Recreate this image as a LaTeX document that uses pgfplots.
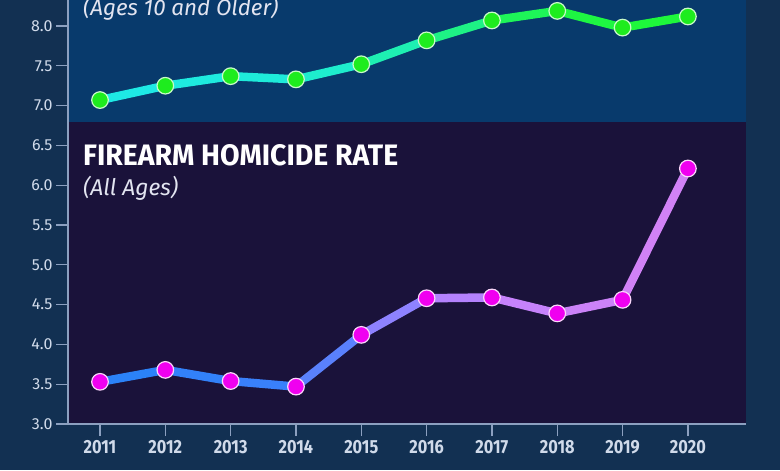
\documentclass[border=0pt]{standalone}
\usepackage{graphicx}
\usepackage{pgfplots}
\pgfplotsset{compat=1.18}
\usepackage{fontspec}
\setmainfont{Fira Sans}
\definecolor{bgout}{RGB}{18,48,82}
\definecolor{bgtop}{RGB}{8,58,108}
\definecolor{bgbot}{RGB}{26,18,58}
\definecolor{axcol}{RGB}{140,160,192}
\definecolor{tlab}{RGB}{208,218,234}
\definecolor{sublab}{RGB}{226,228,240}
\definecolor{gmark}{RGB}{30,236,30}
\definecolor{gedge}{RGB}{200,250,200}
\definecolor{pmark}{RGB}{240,0,240}
\definecolor{pedge}{RGB}{250,215,250}
\newcommand\sx[1]{\scalebox{0.86}[1]{#1}}
\pgfplotsset{
  colormap={gmap}{rgb255(0cm)=(30,232,232) rgb255(3cm)=(30,236,215) rgb255(4cm)=(30,238,195) rgb255(5cm)=(30,240,160) rgb255(6cm)=(30,244,105) rgb255(7cm)=(30,246,70) rgb255(9cm)=(30,248,55)},
  colormap={pmap}{rgb255(0cm)=(40,130,248) rgb255(3cm)=(60,128,250) rgb255(4cm)=(120,130,255) rgb255(5cm)=(165,130,255) rgb255(6cm)=(195,130,252) rgb255(9cm)=(212,130,245)},
}
\begin{document}
\begin{tikzpicture}
\begin{axis}[
  scale only axis,
  width=678pt, height=424pt,
  xmin=2010.51, xmax=2020.89,
  ymin=3, ymax=8.327,
  clip=false,
  axis on top,
  axis x line*=bottom, axis y line*=left,
  axis line style={axcol, line width=1.6pt, -},
  tick style={axcol, line width=1.3pt},
  major tick length=12pt,
  tick align=outside,
  xtick={2011,2012,2013,2014,2015,2016,2017,2018,2019,2020},
  xticklabels={\sx{2011},\sx{2012},\sx{2013},\sx{2014},\sx{2015},\sx{2016},\sx{2017},\sx{2018},\sx{2019},\sx{2020}},
  xticklabel style={font=\fontsize{19}{19}\selectfont\bfseries, text=tlab, yshift=-1pt},
  ytick={3,3.5,4,4.5,5,5.5,6,6.5,7,7.5,8},
  yticklabel style={font=\fontsize{16}{16}\selectfont, text=tlab, /pgf/number format/.cd, fixed, fixed zerofill, precision=1, assume math mode=true},
]
\fill[bgout] (axis cs:2009.469,2.422) rectangle (axis cs:2021.41,8.327);
\fill[bgbot] (axis cs:2010.51,3) rectangle (axis cs:2020.89,6.79);
\fill[bgtop] (axis cs:2010.51,6.79) rectangle (axis cs:2020.89,8.327);
\coordinate (bbsw) at (axis cs:2009.469,2.422);
\coordinate (bbne) at (axis cs:2021.41,8.327);

\node[anchor=base west, inner sep=0pt, text=white] at (axis cs:2010.74,6.254)
  {\resizebox{315pt}{21pt}{\bfseries FIREARM HOMICIDE RATE}};
\node[anchor=base west, inner sep=0pt, text=sublab] at (axis cs:2010.74,5.877)
  {\resizebox{95pt}{!}{\fontsize{21}{21}\selectfont\itshape (All Ages)}};
\node[anchor=base west, inner sep=0pt, text=sublab] at (axis cs:2010.74,8.138)
  {\resizebox{195pt}{!}{\fontsize{21}{21}\selectfont\itshape (Ages 10 and Older)}};

\addplot[mesh, point meta=x, colormap name=gmap, line width=8.5pt, line cap=round, line join=round]
  coordinates {(2011,7.07) (2012,7.25) (2013,7.37) (2014,7.33) (2015,7.52) (2016,7.82) (2017,8.07) (2018,8.19) (2019,7.98) (2020,8.12)};
\addplot[only marks, mark=*, mark size=8.3pt, mark options={fill=gmark, draw=gedge, line width=1.2pt}]
  coordinates {(2011,7.07) (2012,7.25) (2013,7.37) (2014,7.33) (2015,7.52) (2016,7.82) (2017,8.07) (2018,8.19) (2019,7.98) (2020,8.12)};

\addplot[mesh, point meta=x, colormap name=pmap, line width=8.5pt, line cap=round, line join=round]
  coordinates {(2011,3.53) (2012,3.68) (2013,3.54) (2014,3.47) (2015,4.12) (2016,4.58) (2017,4.59) (2018,4.39) (2019,4.56) (2020,6.21)};
\addplot[only marks, mark=*, mark size=8.3pt, mark options={fill=pmark, draw=pedge, line width=1.2pt}]
  coordinates {(2011,3.53) (2012,3.68) (2013,3.54) (2014,3.47) (2015,4.12) (2016,4.58) (2017,4.59) (2018,4.39) (2019,4.56) (2020,6.21)};
\end{axis}
\pgfresetboundingbox
\useasboundingbox (bbsw) rectangle (bbne);
\end{tikzpicture}
\end{document}
